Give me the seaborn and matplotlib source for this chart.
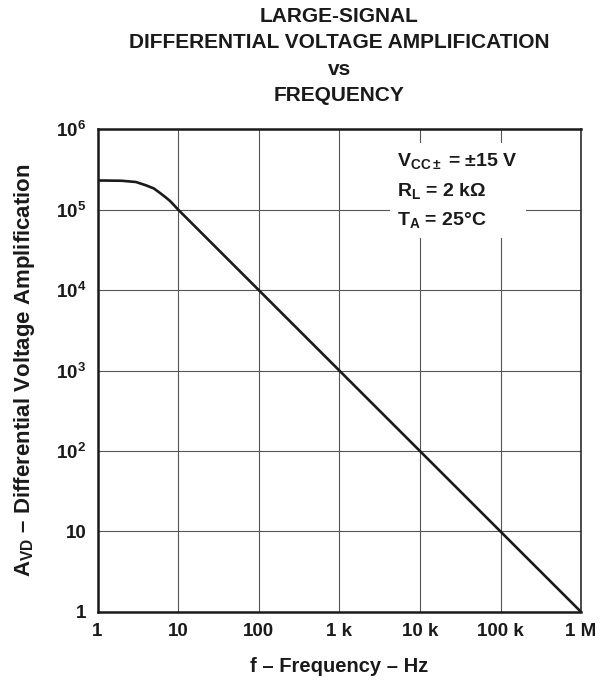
import matplotlib
matplotlib.use("Agg")
import matplotlib.pyplot as plt
import seaborn as sns
import pandas as pd

# Data
freq_hz = [1, 2, 3, 4, 5, 6, 7, 8, 10, 100, 1e3, 1e4, 1e5, 1e6]
avd = [2.3e5, 2.28e5, 2.2e5, 2.0e5, 1.83e5, 1.6e5, 1.42e5, 1.27e5, 1.0e5,
       1e4, 1e3, 100, 10, 1]
x_ticks = [1, 10, 100, 1e3, 1e4, 1e5, 1e6]
x_labels = ["1", "10", "100", "1 k", "10 k", "100 k", "1 M"]
y_ticks = [1, 10, 100, 1e3, 1e4, 1e5, 1e6]
y_labels = ["1", "10", r"$10^{2}$", r"$10^{3}$", r"$10^{4}$", r"$10^{5}$", r"$10^{6}$"]
title_lines = ["LARGE-SIGNAL", "DIFFERENTIAL VOLTAGE AMPLIFICATION", "vs", "FREQUENCY"]
cond_lines = [r"$V_{CC\pm}$ = ±15 V", r"$R_{L}$ = 2 kΩ", r"$T_{A}$ = 25°C"]

sns.set_style("white")
plt.rcParams["font.family"] = ["Liberation Sans", "DejaVu Sans"]
plt.rcParams["font.weight"] = "bold"
plt.rcParams["mathtext.fontset"] = "custom"
plt.rcParams["mathtext.rm"] = "Liberation Sans:bold"
plt.rcParams["mathtext.bf"] = "Liberation Sans:bold"
plt.rcParams["mathtext.it"] = "Liberation Sans:bold"
plt.rcParams["mathtext.default"] = "bf"

ink = "#1a1a1a"
df = pd.DataFrame({"f": freq_hz, "A": avd})

fig = plt.figure(figsize=(6.0, 6.83), dpi=100)
ax = fig.add_axes([0.1625, 0.104, 0.806, 0.707])

sns.lineplot(data=df, x="f", y="A", ax=ax, color=ink, linewidth=1.9)
ax.set_xscale("log")
ax.set_yscale("log")
ax.set_xlim(1, 1e6)
ax.set_ylim(1, 1e6)

ax.set_xticks(x_ticks)
ax.set_xticklabels(x_labels)
ax.set_yticks(y_ticks)
ax.set_yticklabels(y_labels)
ax.minorticks_off()
ax.tick_params(axis="both", length=0, labelsize=13.5, colors=ink)
ax.tick_params(axis="x", pad=8)
ax.tick_params(axis="y", pad=8)
for lab in ax.get_xticklabels() + ax.get_yticklabels():
    lab.set_fontweight("bold")

ax.grid(True, which="major", color="#555555", linewidth=0.8)
ax.set_axisbelow(True)
for side in ["left", "bottom", "top"]:
    ax.spines[side].set_linewidth(1.8)
    ax.spines[side].set_color(ink)
ax.spines["right"].set_linewidth(1.1)
ax.spines["right"].set_color(ink)

ax.set_xlabel("f – Frequency – Hz", fontsize=14.5, fontweight="bold", labelpad=12, color=ink)
ax.set_ylabel(r"$A_{VD}$ – Differential Voltage Amplification", fontsize=16,
              fontweight="bold", labelpad=14, color=ink)

ax.set_title("\n".join(title_lines), fontsize=15, fontweight="bold",
             linespacing=1.5, pad=20, color=ink)

ax.text(0.62, 0.955, "\n".join(cond_lines), transform=ax.transAxes,
        fontsize=14, fontweight="bold", va="top", ha="left", linespacing=1.65,
        color=ink,
        bbox=dict(boxstyle="square,pad=0.4", facecolor="white", edgecolor="none"))

fig.savefig("out.png", dpi=100)
